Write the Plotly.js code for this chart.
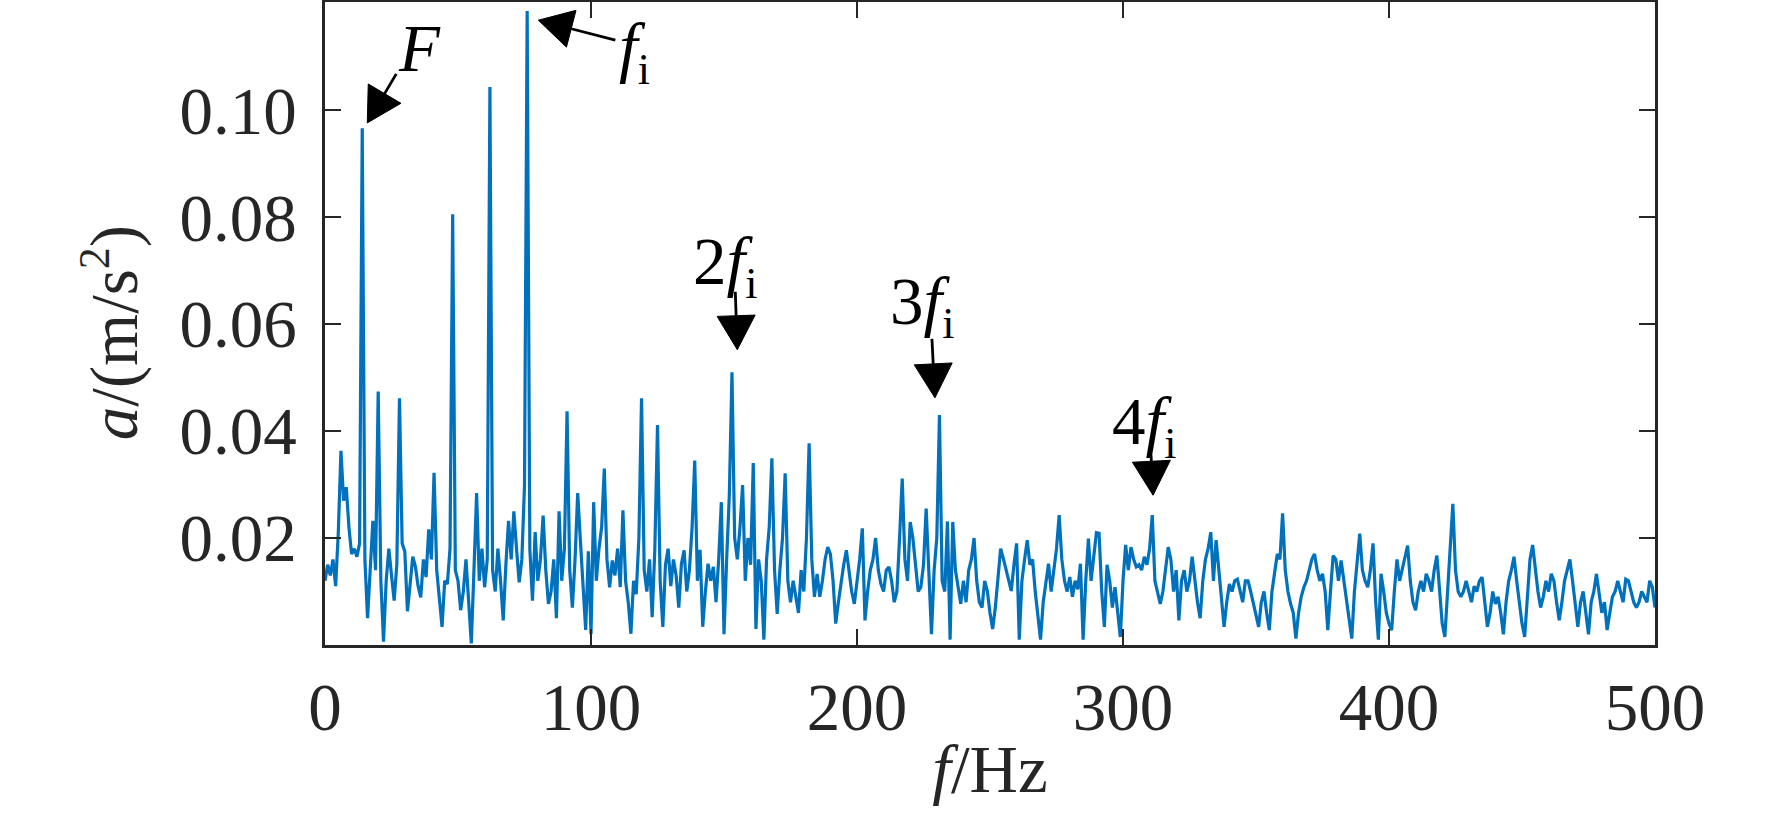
<!DOCTYPE html>
<html>
<head>
<meta charset="utf-8">
<script src="https://cdn.plot.ly/plotly-3.0.1.min.js"></script>
<style>html,body{margin:0;padding:0;background:#fff;}#chart{width:1772px;height:827px;}</style>
</head>
<body>
<div id="chart"></div>
<script>
// Spectrum amplitude a (m/s^2), sampled every 1 Hz from 0 Hz to 500 Hz
var freqStart = 0;
var freqStep = 1;
var amplitude = [
0.012,0.015,0.013,0.016,0.011,0.021,0.0363,0.027,0.0295,0.022,
0.017,0.018,0.0165,0.019,0.0966,0.016,0.005,0.015,0.0232,0.014,
0.0474,0.012,0.0006,0.012,0.018,0.013,0.0083,0.015,0.0461,0.019,
0.0175,0.0063,0.012,0.0165,0.0146,0.011,0.0089,0.016,0.0127,0.0216,
0.016,0.0322,0.014,0.008,0.0034,0.012,0.0114,0.018,0.0805,0.014,
0.012,0.0065,0.010,0.016,0.008,0.0003,0.014,0.0284,0.012,0.018,
0.0108,0.016,0.1043,0.014,0.010,0.018,0.012,0.0046,0.015,0.0232,
0.016,0.025,0.018,0.0117,0.016,0.0298,0.1185,0.018,0.0083,0.0211,
0.012,0.016,0.0242,0.014,0.0077,0.010,0.016,0.005,0.025,0.012,
0.018,0.0437,0.014,0.007,0.016,0.0284,0.0196,0.010,0.0028,0.0175,
0.002,0.0267,0.012,0.018,0.022,0.0330,0.016,0.0108,0.0158,0.013,
0.018,0.0108,0.0252,0.012,0.008,0.0021,0.012,0.0095,0.020,0.0461,
0.014,0.010,0.016,0.0052,0.018,0.0411,0.012,0.0034,0.015,0.018,
0.011,0.016,0.013,0.007,0.0152,0.0177,0.010,0.014,0.022,0.0345,
0.012,0.0178,0.0034,0.010,0.0152,0.012,0.0146,0.008,0.016,0.0267,
0.002,0.016,0.028,0.0510,0.020,0.016,0.022,0.0299,0.012,0.020,
0.015,0.0340,0.003,0.016,0.012,0.001,0.016,0.022,0.0349,0.014,
0.0058,0.014,0.020,0.0321,0.012,0.008,0.012,0.009,0.006,0.014,
0.010,0.020,0.0377,0.016,0.009,0.0133,0.009,0.012,0.016,0.0183,
0.017,0.012,0.004,0.008,0.012,0.015,0.0177,0.014,0.010,0.0077,
0.012,0.016,0.0218,0.0046,0.010,0.014,0.016,0.020,0.014,0.0114,
0.010,0.014,0.0146,0.012,0.008,0.010,0.020,0.0311,0.016,0.012,
0.0230,0.020,0.015,0.010,0.0108,0.015,0.0255,0.012,0.002,0.014,
0.020,0.0430,0.012,0.010,0.0231,0.001,0.0230,0.014,0.011,0.0077,
0.012,0.008,0.014,0.016,0.020,0.012,0.008,0.007,0.012,0.0101,
0.006,0.003,0.007,0.012,0.018,0.0162,0.014,0.012,0.0101,0.015,
0.019,0.001,0.012,0.016,0.0196,0.015,0.016,0.010,0.006,0.001,
0.008,0.012,0.0152,0.010,0.014,0.018,0.0243,0.016,0.012,0.010,
0.0127,0.009,0.012,0.0104,0.0152,0.001,0.012,0.0199,0.012,0.016,
0.021,0.0209,0.010,0.0034,0.015,0.012,0.007,0.0108,0.006,0.0015,
0.012,0.0187,0.014,0.0183,0.016,0.0146,0.015,0.014,0.0165,0.015,
0.018,0.0243,0.012,0.010,0.0077,0.010,0.014,0.0183,0.016,0.010,
0.014,0.0046,0.012,0.014,0.010,0.012,0.0165,0.012,0.008,0.005,
0.012,0.016,0.018,0.0211,0.012,0.0196,0.014,0.008,0.0034,0.008,
0.0114,0.010,0.012,0.0123,0.010,0.008,0.012,0.012,0.010,0.008,
0.006,0.0034,0.008,0.010,0.006,0.0028,0.010,0.014,0.017,0.016,
0.0246,0.014,0.010,0.0077,0.006,0.0012,0.006,0.009,0.0108,0.012,
0.014,0.016,0.017,0.014,0.012,0.0133,0.010,0.0028,0.010,0.0167,
0.016,0.012,0.0158,0.012,0.008,0.004,0.0012,0.010,0.016,0.0208,
0.014,0.012,0.0108,0.014,0.019,0.008,0.001,0.0133,0.010,0.006,
0.004,0.0028,0.010,0.016,0.012,0.014,0.016,0.0186,0.012,0.008,
0.0065,0.010,0.012,0.010,0.0133,0.012,0.010,0.014,0.0167,0.010,
0.004,0.0015,0.010,0.016,0.0264,0.014,0.010,0.009,0.010,0.012,
0.010,0.008,0.011,0.010,0.012,0.0127,0.008,0.0034,0.006,0.010,
0.0077,0.009,0.006,0.002,0.008,0.012,0.014,0.0165,0.012,0.008,
0.004,0.0015,0.010,0.016,0.0187,0.014,0.010,0.007,0.009,0.012,
0.010,0.0133,0.012,0.008,0.0046,0.008,0.012,0.014,0.016,0.012,
0.008,0.0034,0.008,0.010,0.006,0.002,0.008,0.010,0.0133,0.010,
0.006,0.008,0.0028,0.006,0.009,0.010,0.012,0.010,0.008,0.0123,
0.012,0.010,0.008,0.007,0.008,0.010,0.009,0.008,0.012,0.0108,
0.007
];

var xTickVals = [0, 100, 200, 300, 400, 500];
var yTickVals = [0.02, 0.04, 0.06, 0.08, 0.10];
var yTickText = ['0.02', '0.04', '0.06', '0.08', '0.10'];
var xTitle = '<i>f</i>/Hz';
var yTitle = '<i>a</i>/(m/s<sup><span style="font-size:44px">2</span></sup>)';

// Peak labels and the peaks their arrows point at
var SUB = '<sub><span style="font-size:44px">i</span></sub>';
var labelTexts = ['<i>F</i>', '<i>f</i>' + SUB, '2<i>f</i>' + SUB, '3<i>f</i>' + SUB, '4<i>f</i>' + SUB];
var labelFreq = [35.4, 116.2, 150.4, 224.4, 307.8];
var labelAmp = [0.1116, 0.1108, 0.0708, 0.0634, 0.0410];
var tipFreq = [15.9, 80.2, 155.0, 229.3, 311.3];
var tipAmp = [0.0976, 0.1168, 0.0552, 0.0462, 0.0280];
// arrow tail offset from tip, screen pixels (x right, y down)
var tailDx = [29, 77, -2, -3, -2];
var tailDy = [-49, 20, -58, -59, -40];

var FONT = '"Liberation Serif", "Times New Roman", Times, serif';
var FS = 67;

var annotations = [];
var shapes = [];
var HEAD_L = 34, HEAD_W = 19;
for (var i = 0; i < labelTexts.length; i++) {
  annotations.push({
    x: labelFreq[i], y: labelAmp[i], xref: 'x', yref: 'y',
    text: labelTexts[i], showarrow: false,
    xanchor: 'center', yanchor: 'middle',
    font: {family: FONT, size: FS, color: '#000'}
  });
  // arrow in pixel offsets around the tip (y up)
  var tx = tailDx[i], ty = -tailDy[i];
  var len = Math.sqrt(tx * tx + ty * ty);
  var ux = -tx / len, uy = -ty / len;          // direction tail -> tip
  var bx = -ux * HEAD_L, by = -uy * HEAD_L;    // base centre of head
  var nx = -uy, ny = ux;
  shapes.push({
    type: 'line', xref: 'x', yref: 'y',
    xsizemode: 'pixel', ysizemode: 'pixel',
    xanchor: tipFreq[i], yanchor: tipAmp[i],
    x0: tx, y0: ty, x1: bx, y1: by,
    line: {color: '#000', width: 2.8}
  });
  shapes.push({
    type: 'path', xref: 'x', yref: 'y',
    xsizemode: 'pixel', ysizemode: 'pixel',
    xanchor: tipFreq[i], yanchor: tipAmp[i],
    path: 'M0,0 L' + (bx + nx * HEAD_W).toFixed(2) + ',' + (by + ny * HEAD_W).toFixed(2) +
          ' L' + (bx - nx * HEAD_W).toFixed(2) + ',' + (by - ny * HEAD_W).toFixed(2) + ' Z',
    fillcolor: '#000', line: {color: '#000', width: 1}
  });
}

// y-axis title placed as a rotated label left of the tick labels
annotations.push({
  x: -0.161, y: 0.5, xref: 'paper', yref: 'paper', yshift: -9,
  text: yTitle, textangle: -90, showarrow: false,
  xanchor: 'center', yanchor: 'middle',
  font: {family: FONT, size: FS, color: '#262626'}
});

var trace = {
  type: 'scatter', mode: 'lines',
  x0: freqStart, dx: freqStep, y: amplitude,
  line: {color: '#0072BD', width: 3.2},
  hoverinfo: 'skip'
};

var axisCommon = {
  showline: true, linecolor: '#262626', linewidth: 2.8, mirror: 'ticks',
  ticks: 'inside', ticklen: 16, tickwidth: 2.8, tickcolor: '#262626',
  showgrid: false, zeroline: false,
  tickfont: {family: FONT, size: FS, color: '#262626'}
};

var layout = {
  width: 1772, height: 827,
  margin: {l: 325, r: 117, t: 2, b: 182, pad: 0},
  paper_bgcolor: '#ffffff', plot_bgcolor: '#ffffff',
  showlegend: false,
  xaxis: Object.assign({}, axisCommon, {
    range: [0, 500], tickvals: xTickVals, ticktext: xTickVals.map(String),
    ticklabelstandoff: 2,
    title: {text: xTitle, font: {family: FONT, size: FS, color: '#262626'}, standoff: 2}
  }),
  yaxis: Object.assign({}, axisCommon, {
    range: [0, 0.1202], tickvals: yTickVals, ticktext: yTickText,
    ticklabelstandoff: 12
  }),
  annotations: annotations,
  shapes: shapes
};

Plotly.newPlot('chart', [trace], layout, {staticPlot: true, displayModeBar: false});
</script>
</body>
</html>
